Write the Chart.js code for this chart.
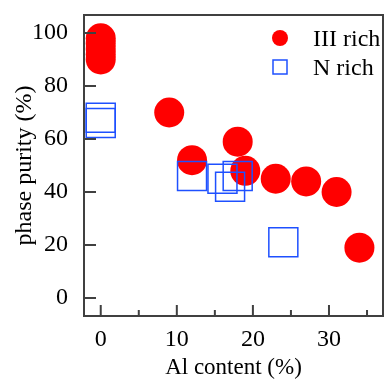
<!DOCTYPE html>
<html>
<head>
<meta charset="utf-8">
<script src="https://cdn.jsdelivr.net/npm/chart.js@4/dist/chart.umd.min.js"></script>
<style>
  html, body { margin: 0; padding: 0; background: #fff; }
</style>
</head>
<body>
<canvas id="purityGraph" width="385" height="380"></canvas>
<script>
// values
const richAl = [0, 0, 0, 0, 0, 9, 12, 18, 19, 23, 27, 31, 34];
const richPurity = [98, 96, 94, 92, 90, 70, 52, 59, 48, 45, 44, 40, 19];
const nRichAl = [0, 0, 12, 16, 18, 17, 24];
const nRichPurity = [68, 66, 46, 45, 46, 42, 21];

const xTicks = [0, 10, 20, 30];
const xMinorTicks = [5, 15, 25, 35];
const yTicks = [0, 20, 40, 60, 80, 100];

const axisColor = '#404040';
const serif = 'Liberation Serif';

const toPoints = (xs, ys) => xs.map((x, i) => ({ x: x, y: ys[i] }));

// keep chart.js from pulling the plot area in for edge labels
const noEdgePadding = scale => {
  scale.paddingTop = 0;
  scale.paddingBottom = 0;
  scale.paddingLeft = 0;
  scale.paddingRight = 0;
};

// inward tick marks, top/right frame and the legend box
const framePlugin = {
  id: 'frame',
  afterDraw(chart) {
    const { ctx, chartArea: a, scales } = chart;
    ctx.save();
    ctx.strokeStyle = axisColor;
    ctx.lineWidth = 2;
    ctx.beginPath();
    ctx.moveTo(a.left, a.top);
    ctx.lineTo(a.right, a.top);
    ctx.lineTo(a.right, a.bottom);
    yTicks.forEach(v => {
      const y = scales.y.getPixelForValue(v);
      ctx.moveTo(a.left, y);
      ctx.lineTo(a.left + 12, y);
    });
    xTicks.forEach(v => {
      const x = scales.x.getPixelForValue(v);
      ctx.moveTo(x, a.bottom);
      ctx.lineTo(x, a.bottom - 11);
    });
    xMinorTicks.forEach(v => {
      const x = scales.x.getPixelForValue(v);
      ctx.moveTo(x, a.bottom);
      ctx.lineTo(x, a.bottom - 6);
    });
    ctx.stroke();

    // legend
    const lx = a.left + 196;
    let ly = a.top + 23;
    ctx.font = '24px "' + serif + '"';
    ctx.textBaseline = 'alphabetic';
    chart.data.datasets.forEach(ds => {
      if (ds.pointStyle === 'circle') {
        ctx.fillStyle = ds.backgroundColor;
        ctx.beginPath();
        ctx.arc(lx, ly, 8, 0, Math.PI * 2);
        ctx.fill();
      } else {
        ctx.strokeStyle = ds.borderColor;
        ctx.lineWidth = 1.5;
        ctx.strokeRect(lx - 7, ly - 7, 14, 14);
      }
      ctx.fillStyle = '#000';
      ctx.fillText(ds.label, lx + 33, ly + 8);
      ly += 29;
    });
    ctx.restore();
  }
};

new Chart(document.getElementById('purityGraph'), {
  type: 'scatter',
  data: {
    datasets: [
      {
        label: 'III rich',
        data: toPoints(richAl, richPurity),
        pointStyle: 'circle',
        pointRadius: 15,
        pointHoverRadius: 15,
        backgroundColor: '#ff0000',
        borderColor: '#ff0000',
        borderWidth: 0,
        order: 1,
        clip: false
      },
      {
        label: 'N rich',
        data: toPoints(nRichAl, nRichPurity),
        pointStyle: 'rect',
        pointRadius: 20.5,
        pointHoverRadius: 20.5,
        backgroundColor: 'rgba(0,0,0,0)',
        borderColor: 'rgb(30, 80, 255)',
        borderWidth: 1.5,
        order: 0,
        clip: false
      }
    ]
  },
  options: {
    responsive: false,
    animation: false,
    layout: {
      autoPadding: false,
      padding: { top: 15, right: 2, left: 0, bottom: 0 }
    },
    plugins: {
      legend: { display: false },
      tooltip: { enabled: false }
    },
    scales: {
      x: {
        type: 'linear',
        min: -2.2,
        max: 37.1,
        afterBuildTicks: scale => { scale.ticks = xTicks.map(v => ({ value: v })); },
        afterFit: scale => { scale.height = 64; noEdgePadding(scale); },
        grid: { display: false },
        border: { display: true, color: axisColor, width: 2 },
        ticks: {
          color: '#000',
          padding: 1,
          maxRotation: 0,
          font: { family: serif, size: 24 }
        },
        title: {
          display: true,
          text: 'Al content (%)',
          color: '#000',
          font: { family: serif, size: 23, lineHeight: 1 },
          padding: { top: 0, bottom: 1 }
        }
      },
      y: {
        type: 'linear',
        min: -6.8,
        max: 106.8,
        afterBuildTicks: scale => { scale.ticks = yTicks.map(v => ({ value: v })); },
        afterFit: scale => { scale.width = 84; noEdgePadding(scale); },
        grid: { display: false },
        border: { display: true, color: axisColor, width: 2 },
        ticks: {
          color: '#000',
          padding: 8,
          font: { family: serif, size: 24 }
        },
        title: {
          display: true,
          text: 'phase purity (%)',
          color: '#000',
          font: { family: serif, size: 24, lineHeight: 1 },
          padding: { top: 13, bottom: 0 }
        }
      }
    }
  },
  plugins: [framePlugin]
});
</script>
</body>
</html>
